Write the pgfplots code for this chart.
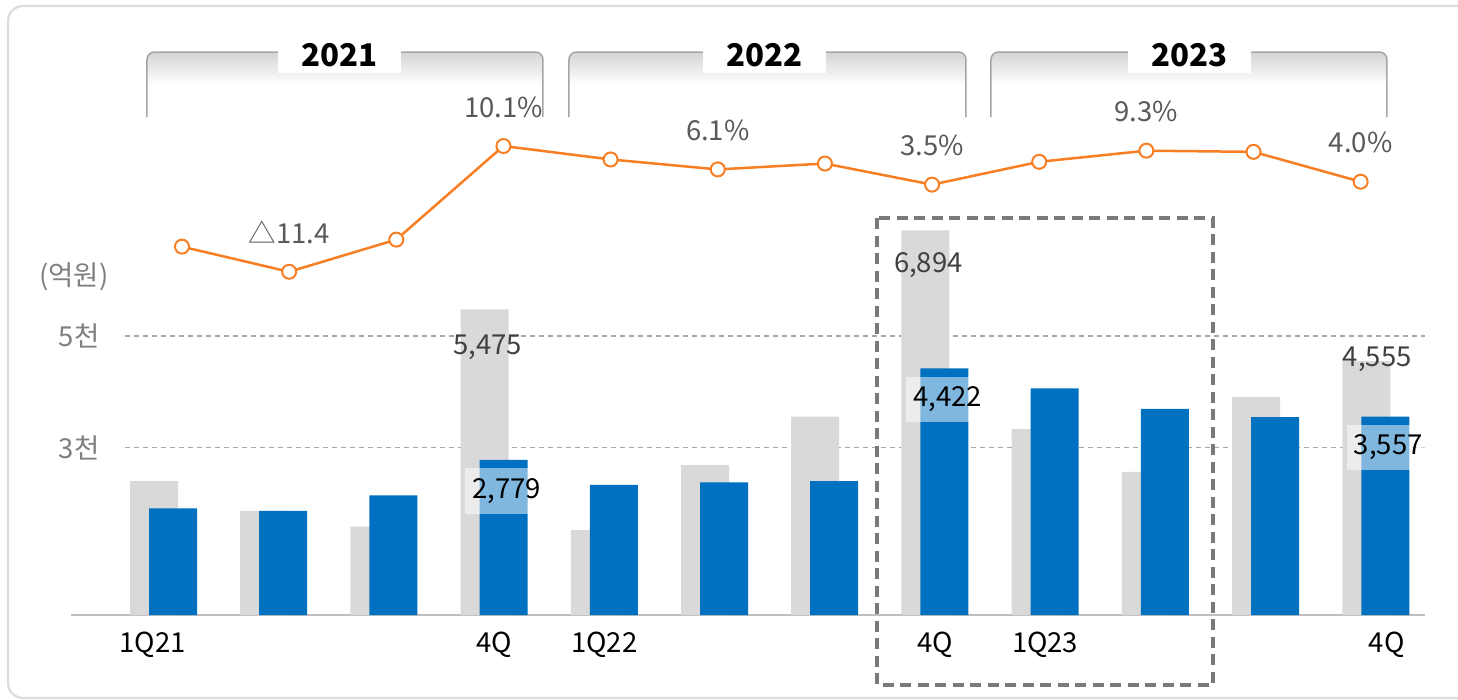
\documentclass[border=0pt]{standalone}
\usepackage{pgfplots}
\pgfplotsset{compat=1.18}
\usepackage{pgfplotstable}
\usepackage{fontspec}
\setmainfont{Noto Sans CJK KR}

\definecolor{barblue}{RGB}{0,112,192}
\definecolor{bargray}{RGB}{217,217,217}
\definecolor{lineorange}{RGB}{247,126,35}
\definecolor{labgray}{RGB}{89,89,89}
\definecolor{darklab}{RGB}{64,64,64}
\definecolor{tickgray}{RGB}{127,127,127}
\definecolor{gridgray}{RGB}{166,166,166}
\definecolor{axisgray}{RGB}{191,191,191}
\definecolor{framegray}{RGB}{220,220,220}
\definecolor{brackgray}{RGB}{165,165,165}
\definecolor{brackfill}{RGB}{212,212,212}
\definecolor{boxgray}{RGB}{122,122,122}

% line (%)
\pgfplotstableread{
x pct lab
0 -7.1 {}
1 -11.4 {△11.4}
2 -5.9 {}
3 10.1 {10.1\%}
4 7.8 {}
5 6.1 {6.1\%}
6 7.1 {}
7 3.5 {3.5\%}
8 7.4 {}
9 9.3 {9.3\%}
10 9.1 {}
11 4.0 {4.0\%}
}\linedata

\begin{document}
\begin{tikzpicture}
\useasboundingbox (0,0) rectangle (583.2pt,279.6pt);

% outer frame
\begin{scope}
\clip (0,0) rectangle (583.2pt,279.6pt);
\begin{scope}[x=0.4pt,y=-0.4pt,yshift=279.6pt]
\draw[framegray, line width=0.9pt, rounded corners=6pt] (8,6) rectangle (1480,698);
\end{scope}
\end{scope}

% year brackets
\begin{scope}[x=0.4pt,y=-0.4pt,yshift=279.6pt]
\foreach \L/\R/\C/\Y in {147/543/339.5/2021, 569/966/764.7/2022, 991/1387/1189.5/2023}{
  \shade[top color=brackfill, bottom color=white, middle color=white, rounded corners=3pt]
     (\L,117) -- (\L,52) -- (\R,52) -- (\R,117) -- cycle;
  \draw[brackgray, line width=0.6pt, rounded corners=3pt]
     (\L,117) -- (\L,52) -- (\R,52) -- (\R,117);
  \fill[white] (\C-61.5,38) rectangle (\C+61.5,73);
  \node[font=\fontsize{12.5}{14}\selectfont\bfseries, text=black] at (\C,55) {\Y};
}
\node[font=\fontsize{11}{13}\selectfont, text=tickgray] at (74,276.7) {(억원)};
\end{scope}

% bars
\begin{axis}[
  at={(28.4pt,33.6pt)}, anchor=south west,
  scale only axis, width=541.6pt, height=206pt,
  xmin=-0.8394, xmax=11.447, ymin=0, ymax=9229.4,
  clip=false,
  axis x line*=bottom, axis y line*=left,
  x axis line style={axisgray, line width=0.8pt},
  y axis line style={draw=none},
  major tick length=0pt,
  xtick={-0.1,3,4,7,8,11.1},
  xticklabels={1Q21,4Q,1Q22,4Q,1Q23,4Q},
  xticklabel style={font=\fontsize{11}{13}\selectfont, text=black, anchor=center, yshift=-12pt},
  ytick={3000,5000},
  yticklabels={3천,5천},
  yticklabel style={font=\fontsize{11}{13}\selectfont, text=tickgray, anchor=east, inner sep=0pt, xshift=11.6pt},
  ybar,
  bar width=19.2pt,
]
\draw[gridgray, line width=0.6pt, dash pattern=on 2pt off 1.6pt] (axis cs:-0.349,3000) -- (axis cs:11.447,3000);
\draw[gridgray, line width=0.6pt, dash pattern=on 2pt off 1.6pt] (axis cs:-0.349,5000) -- (axis cs:11.447,5000);

\addplot[draw=none, fill=bargray, bar shift=-3.8pt,
  point meta=explicit symbolic,
  visualization depends on={value \thisrow{dx} \as \gdx},
  visualization depends on={value \thisrow{dy} \as \gdy},
  nodes near coords,
  nodes near coords style={anchor=center, xshift=\gdx*0.4pt, yshift=\gdy*0.4pt,
    font=\fontsize{11}{13}\selectfont, text=darklab, inner sep=0pt}]
  table[x=x, y=v, meta=lab] {
x v lab dx dy
0 2401 {} 0 0
1 1864 {} 0 0
2 1582 {} 0 0
3 5475 {5,475} 3 -38
4 1523 {} 0 0
5 2688 {} 0 0
6 3554 {} 0 0
7 6894 {6,894} 3 -35
8 3333 {} 0 0
9 2563 {} 0 0
10 3907 {} 0 0
11 4555 {4,555} 11 2
};

\addplot[draw=none, fill=barblue, bar shift=3.8pt,
  point meta=explicit symbolic,
  visualization depends on={value \thisrow{op} \as \bop},
  nodes near coords,
  nodes near coords style={anchor=center, xshift=1.2pt, yshift=-12.4pt,
    font=\fontsize{11}{13}\selectfont, text=black,
    fill=white, fill opacity=\bop, text opacity=1,
    inner xsep=2.8pt, inner ysep=4pt}]
  table[x=x, y=v, meta=lab] {
x v lab op
0 1912 {} 0
1 1864 {} 0
2 2145 {} 0
3 2779 {2,779} 0.5
4 2330 {} 0
5 2378 {} 0
6 2401 {} 0
7 4422 {4,422} 0.5
8 4063 {} 0
9 3692 {} 0
10 3548 {} 0
11 3557 {3,557} 0.5
};
\end{axis}

% line
\begin{axis}[
  at={(28.4pt,33.6pt)}, anchor=south west,
  scale only axis, width=541.6pt, height=206pt,
  xmin=-1.0359, xmax=11.6006, ymin=-70.071, ymax=17.963,
  hide axis, clip=false,
]
\addplot[lineorange, line width=1pt, mark=*, mark size=2.8pt,
  mark options={fill=white, draw=lineorange, line width=0.8pt},
  point meta=explicit symbolic,
  nodes near coords,
  nodes near coords style={anchor=center, yshift=15.6pt,
    font=\fontsize{11}{13}\selectfont, text=labgray}]
  table[x=x, y=pct, meta=lab] {\linedata};
\end{axis}

% highlight box
\begin{scope}[x=0.4pt,y=-0.4pt,yshift=279.6pt]
\draw[boxgray, line width=1.3pt, dash pattern=on 4.4pt off 2.6pt] (877,218) rectangle (1213,685);
\end{scope}
\end{tikzpicture}
\end{document}
